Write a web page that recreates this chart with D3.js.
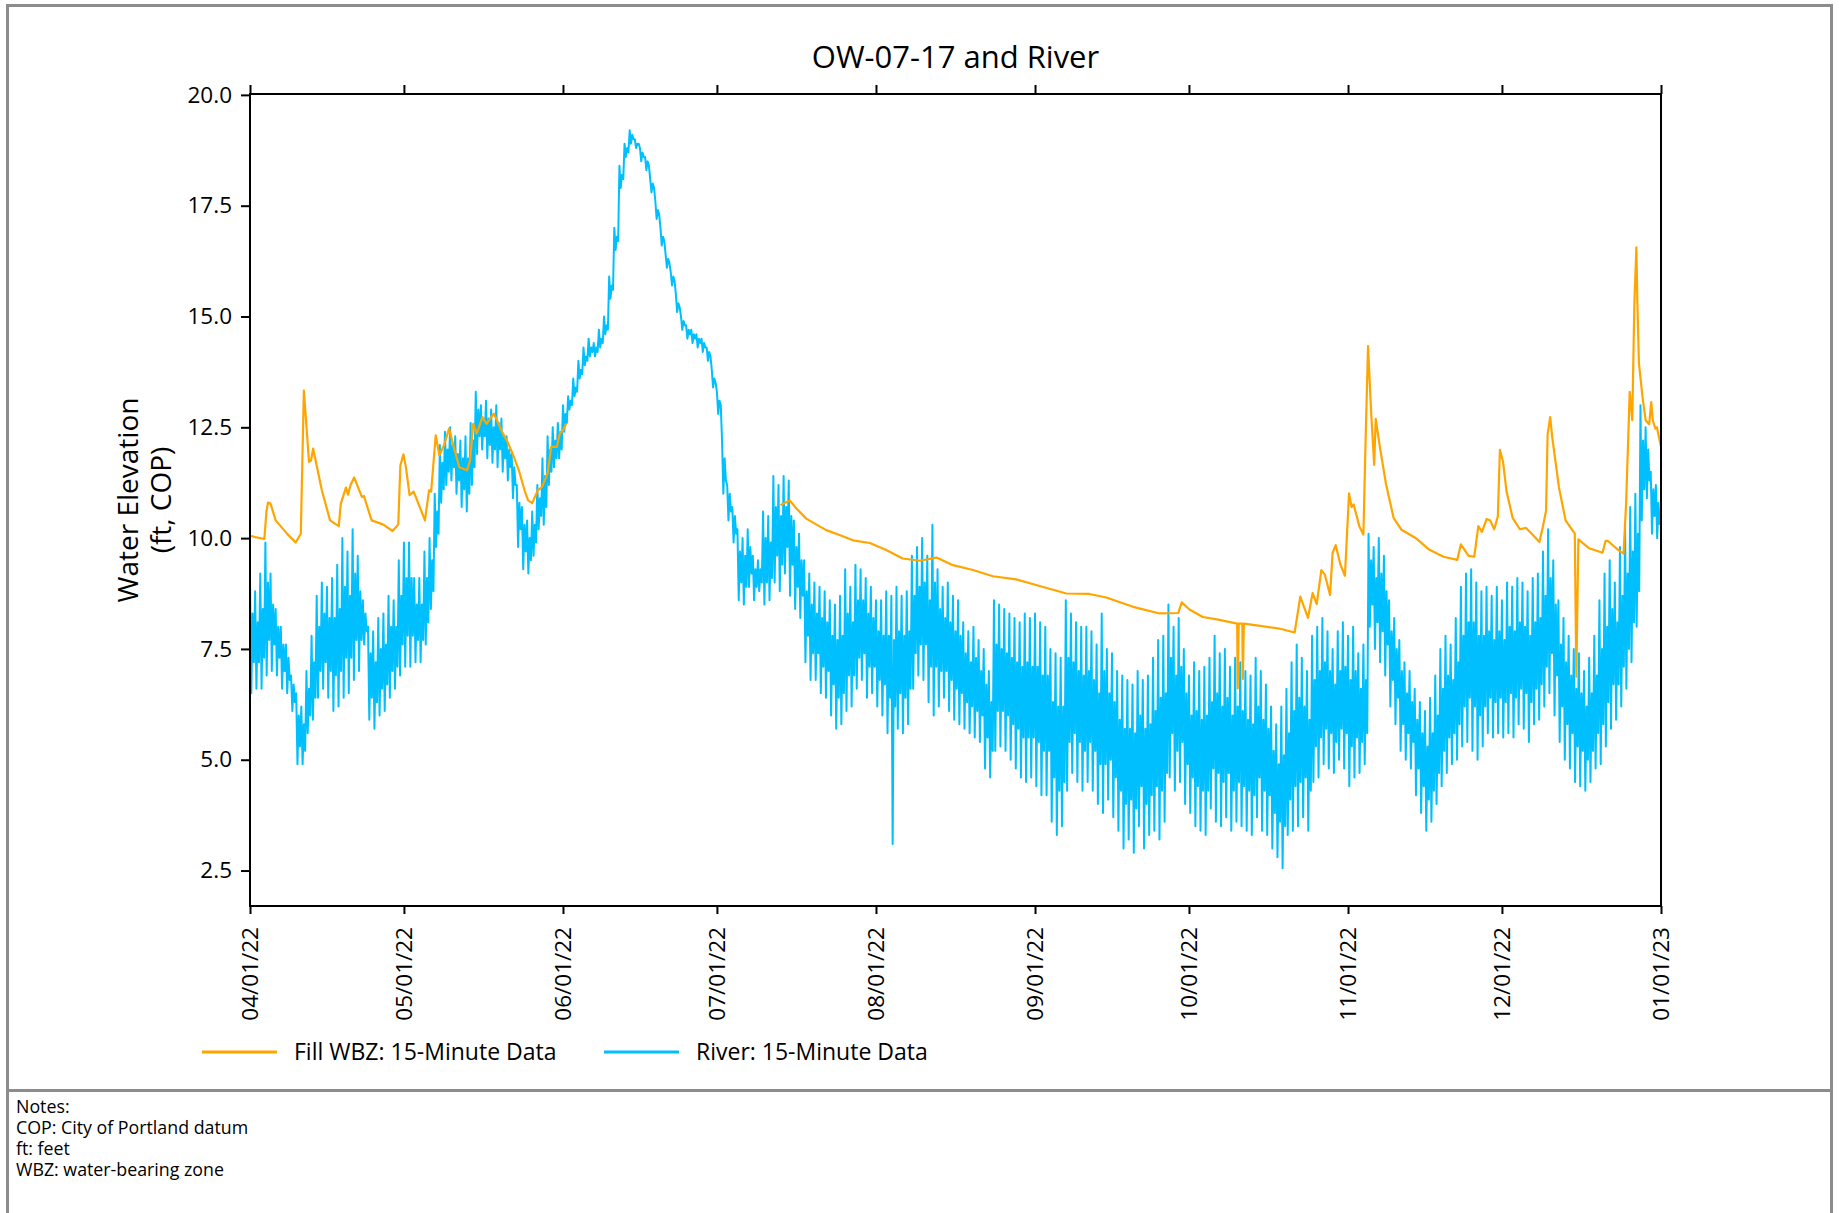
<!DOCTYPE html>
<html>
<head>
<meta charset="utf-8">
<script src="https://cdn.jsdelivr.net/npm/d3@7"></script>
<style>
  body { margin: 0; background: #fff; }
  svg { display: block; }
  text { font-family: "Open Sans", "Noto Sans", sans-serif; fill: #000; }
</style>
</head>
<body>
<svg id="chart" width="1843" height="1213"></svg>
<script>
// ---- data -------------------------------------------------------------
const chartTitle = "OW-07-17 and River";
const yLabelLines = ["Water Elevation", "(ft, COP)"];
const seriesNames = ["Fill WBZ: 15-Minute Data", "River: 15-Minute Data"];
const notes = ["Notes:", "COP: City of Portland datum", "ft: feet", "WBZ: water-bearing zone"];

const startDate = "2022-04-01";
const endDate = "2023-01-01";
const monthTicks = ["2022-04-01", "2022-05-01", "2022-06-01", "2022-07-01", "2022-08-01",
                    "2022-09-01", "2022-10-01", "2022-11-01", "2022-12-01", "2023-01-01"];
const yTicks = [2.5, 5.0, 7.5, 10.0, 12.5, 15.0, 17.5, 20.0];

// River stage (ft, COP), one entry per day from 04/01/22:
// higher high, lower low, lower high and higher low of the tidal day
const riverHigh = [
  9.1, 8.8, 9.2, 9.9, 9.2, 8.4, 8.0, 7.6, 6.9, 6.5, 6.2, 7.0, 7.8, 8.7, 9.0, 8.9, 9.1, 9.4, 10.0, 9.7,
  10.2, 9.6, 8.6, 8.0, 7.9, 8.2, 8.3, 8.7, 8.6, 9.5, 9.9, 9.9, 9.1, 9.1, 9.7, 10.0, 11.0, 12.1, 12.4, 12.5,
  12.3, 12.2, 12.3, 12.6, 13.3, 13.0, 13.1, 12.9, 13.0, 12.7, 12.3, 11.9, 11.2, 10.7, 10.4, 10.6, 11.2, 11.8, 12.3, 12.5,
  12.6, 13.0, 13.2, 13.6, 14.0, 14.3, 14.5, 14.4, 14.7, 15.0, 15.9, 17.0, 18.4, 18.9, 19.2, 19.0, 18.8, 18.6, 18.1, 17.6,
  17.0, 16.4, 16.0, 15.5, 15.0, 14.8, 14.7, 14.6, 14.5, 14.3, 13.8, 13.3, 12.2, 11.2, 10.7, 10.2, 10.0, 10.2, 9.6, 9.5,
  10.6, 10.5, 11.4, 11.2, 11.4, 11.3, 10.4, 10.1, 9.5, 9.2, 9.0, 8.9, 8.8, 8.6, 8.5, 8.7, 9.3, 8.9, 9.4, 9.3,
  9.1, 8.9, 8.6, 8.6, 8.8, 8.7, 8.9, 8.7, 8.8, 9.6, 9.8, 10.0, 9.6, 10.3, 9.3, 8.9, 9.0, 8.7, 8.6, 8.1,
  7.9, 8.0, 7.7, 7.5, 7.0, 8.6, 8.5, 8.4, 8.3, 8.2, 8.1, 8.3, 8.2, 8.3, 8.1, 8.0, 7.5, 7.4, 7.3, 8.6,
  8.3, 8.1, 8.0, 8.0, 7.9, 7.6, 8.3, 7.5, 7.4, 7.0, 6.9, 6.8, 6.7, 7.0, 6.8, 6.9, 7.3, 7.7, 7.8, 8.5,
  8.0, 8.2, 7.5, 6.9, 7.2, 7.0, 7.1, 7.3, 7.8, 7.4, 7.5, 7.1, 7.3, 7.2, 7.0, 6.9, 7.3, 7.0, 6.7, 6.2,
  5.8, 6.2, 6.6, 7.2, 7.6, 7.3, 7.0, 7.8, 8.0, 8.2, 7.9, 7.5, 7.9, 8.1, 7.8, 8.0, 7.4, 7.6, 10.1, 9.8,
  10.0, 9.6, 8.6, 8.2, 7.7, 7.2, 7.0, 6.6, 6.3, 6.1, 6.4, 6.9, 7.5, 7.8, 7.6, 8.2, 8.9, 9.2, 9.3, 9.0,
  8.8, 8.9, 8.7, 8.9, 8.6, 9.0, 8.9, 9.1, 9.0, 8.8, 9.1, 9.2, 9.7, 10.2, 9.5, 8.6, 8.2, 7.8, 7.5, 7.4,
  7.0, 7.3, 7.8, 8.6, 9.2, 9.5, 9.0, 9.8, 10.3, 10.7, 11.0, 13.0, 12.5, 11.5, 11.2
];
const riverLow = [
  6.5, 6.6, 6.6, 6.9, 7.0, 6.9, 6.6, 6.5, 6.1, 4.9, 4.9, 5.6, 5.9, 6.4, 6.6, 6.4, 6.1, 6.2, 6.4, 6.5,
  6.8, 7.0, 7.6, 5.9, 5.7, 6.0, 6.1, 6.4, 6.6, 6.9, 7.1, 7.1, 7.2, 7.2, 7.6, 8.4, 9.8, 10.8, 11.2, 11.3,
  11.0, 10.7, 10.6, 11.2, 11.9, 12.0, 11.8, 11.7, 11.6, 11.5, 11.3, 10.9, 9.8, 9.3, 9.2, 9.6, 10.2, 10.3, 11.2, 11.6,
  11.8, 12.4, 12.9, 13.2, 13.6, 13.9, 14.1, 14.1, 14.3, 14.6, 15.4, 16.5, 17.9, 18.6, 18.9, 18.8, 18.5, 18.3, 17.8, 17.2,
  16.6, 16.1, 15.7, 15.1, 14.7, 14.5, 14.4, 14.3, 14.2, 14.0, 13.4, 12.8, 11.0, 10.4, 9.9, 8.6, 8.5, 8.9, 8.6, 8.8,
  8.5, 8.6, 9.0, 8.8, 9.2, 8.7, 8.4, 8.2, 7.2, 6.8, 6.8, 6.5, 6.4, 6.0, 5.7, 5.8, 6.1, 6.2, 6.6, 6.8,
  6.4, 6.5, 6.2, 6.0, 5.6, 3.1, 5.7, 5.6, 5.8, 6.6, 6.9, 6.8, 6.3, 6.0, 6.2, 6.4, 6.1, 5.9, 5.8, 5.7,
  5.6, 5.5, 5.4, 4.8, 4.6, 5.2, 5.3, 5.2, 5.0, 4.8, 4.6, 4.5, 4.6, 4.4, 4.2, 4.2, 3.6, 3.3, 3.5, 4.3,
  4.7, 4.5, 4.3, 4.5, 4.3, 4.0, 3.8, 4.1, 3.7, 3.4, 3.0, 3.2, 2.9, 3.5, 3.0, 3.3, 3.4, 3.2, 3.6, 4.6,
  4.3, 4.5, 4.0, 3.8, 3.5, 3.4, 3.3, 3.9, 3.6, 3.5, 3.7, 3.4, 3.6, 3.5, 3.4, 3.3, 3.7, 3.4, 3.3, 3.0,
  2.8, 2.55, 3.3, 3.4, 3.5, 3.7, 3.4, 4.5, 4.6, 4.9, 4.8, 4.7, 5.0, 4.8, 4.4, 4.6, 4.7, 4.9, 8.0, 7.5,
  7.2, 6.9, 6.2, 5.8, 5.2, 5.0, 4.8, 4.2, 3.8, 3.4, 3.6, 4.0, 4.4, 4.7, 4.9, 5.0, 5.3, 5.4, 5.2, 5.0,
  5.3, 5.6, 5.5, 5.6, 5.5, 5.6, 5.5, 5.8, 5.7, 5.4, 5.8, 5.9, 6.2, 6.5, 6.0, 5.4, 5.0, 4.8, 4.5, 4.4,
  4.3, 4.5, 4.8, 4.9, 5.3, 5.7, 5.9, 6.2, 6.6, 7.2, 8.0, 10.4, 10.9, 10.1, 10.0
];
const riverLowerHigh = [
  8.3, 8.1, 8.4, 9.0, 8.5, 8.0, 7.6, 7.3, 6.7, 6.0, 5.8, 6.6, 7.2, 8.0, 8.3, 8.2, 8.2, 8.4, 8.9, 8.7,
  9.2, 8.8, 8.3, 7.4, 7.2, 7.5, 7.6, 8.0, 8.0, 8.7, 9.1, 9.1, 8.5, 8.5, 9.1, 9.5, 10.6, 11.7, 12.0, 12.1,
  11.9, 11.8, 11.8, 12.2, 12.9, 12.7, 12.7, 12.5, 12.6, 12.3, 12.0, 11.6, 10.8, 10.3, 10.0, 10.3, 10.9, 11.4, 12.0, 12.2,
  12.4, 12.8, 13.1, 13.4, 13.8, 14.1, 14.3, 14.3, 14.5, 14.8, 15.7, 16.8, 18.2, 18.8, 19.1, 18.9, 18.7, 18.5, 18.0, 17.4,
  16.8, 16.3, 15.9, 15.3, 14.9, 14.7, 14.6, 14.5, 14.4, 14.2, 13.6, 13.1, 11.8, 11.0, 10.5, 9.7, 9.6, 9.8, 9.3, 9.3,
  10.0, 9.9, 10.7, 10.5, 10.7, 10.5, 9.8, 9.5, 8.8, 8.5, 8.3, 8.2, 8.1, 7.8, 7.7, 7.8, 8.3, 8.1, 8.6, 8.6,
  8.3, 8.2, 7.9, 7.8, 7.8, 7.7, 7.9, 7.8, 7.9, 8.7, 8.9, 9.0, 8.6, 9.0, 8.4, 8.2, 8.1, 7.9, 7.8, 7.4,
  7.2, 7.3, 7.0, 6.7, 6.3, 7.6, 7.5, 7.4, 7.3, 7.2, 7.1, 7.2, 7.1, 7.1, 6.9, 6.9, 6.3, 6.2, 6.2, 7.3,
  7.2, 7.0, 6.9, 7.0, 6.8, 6.5, 7.0, 6.5, 6.3, 5.9, 5.7, 5.7, 5.6, 6.0, 5.7, 5.8, 6.1, 6.4, 6.5, 7.3,
  6.9, 7.1, 6.5, 6.0, 6.1, 5.9, 6.0, 6.3, 6.5, 6.2, 6.4, 6.0, 6.2, 6.1, 5.9, 5.8, 6.2, 5.9, 5.7, 5.2,
  4.9, 5.1, 5.6, 6.1, 6.4, 6.2, 5.9, 6.8, 7.0, 7.2, 7.0, 6.7, 7.0, 7.1, 6.8, 7.0, 6.6, 6.8, 9.5, 9.1,
  9.2, 8.8, 7.9, 7.5, 7.0, 6.5, 6.3, 5.9, 5.6, 5.3, 5.6, 6.0, 6.6, 6.9, 6.8, 7.2, 7.8, 8.1, 8.1, 7.8,
  7.8, 7.9, 7.7, 7.9, 7.7, 8.0, 7.9, 8.1, 8.0, 7.8, 8.1, 8.2, 8.7, 9.1, 8.5, 7.6, 7.2, 6.9, 6.6, 6.5,
  6.2, 6.5, 6.9, 7.5, 8.0, 8.4, 8.1, 8.7, 9.2, 9.7, 10.1, 12.2, 12.0, 11.1, 10.8
];
const riverHigherLow = [
  7.2, 7.2, 7.3, 7.7, 7.6, 7.3, 7.0, 6.8, 6.3, 5.3, 5.2, 6.0, 6.4, 7.0, 7.2, 7.0, 6.9, 7.0, 7.3, 7.3,
  7.7, 7.7, 7.9, 6.4, 6.3, 6.6, 6.7, 7.0, 7.1, 7.6, 7.8, 7.8, 7.7, 7.7, 8.1, 8.8, 10.1, 11.1, 11.5, 11.6,
  11.3, 11.1, 11.0, 11.6, 12.3, 12.3, 12.1, 12.0, 12.0, 11.8, 11.6, 11.2, 10.2, 9.7, 9.5, 9.9, 10.5, 10.7, 11.5, 11.8,
  12.0, 12.6, 13.0, 13.3, 13.7, 14.0, 14.2, 14.2, 14.4, 14.7, 15.6, 16.7, 18.1, 18.7, 19.0, 18.9, 18.6, 18.4, 17.9, 17.3,
  16.7, 16.2, 15.8, 15.2, 14.8, 14.6, 14.5, 14.4, 14.3, 14.1, 13.5, 13.0, 11.3, 10.6, 10.1, 9.0, 8.9, 9.2, 8.9, 9.0,
  9.0, 9.1, 9.6, 9.4, 9.8, 9.4, 8.9, 8.7, 7.8, 7.4, 7.4, 7.1, 7.0, 6.7, 6.4, 6.5, 6.9, 6.9, 7.3, 7.4,
  7.1, 7.1, 6.8, 6.7, 6.4, 6.2, 6.5, 6.4, 6.6, 7.4, 7.6, 7.6, 7.1, 7.1, 7.0, 7.0, 6.8, 6.6, 6.5, 6.3,
  6.2, 6.1, 6.0, 5.5, 5.2, 6.1, 6.1, 6.0, 5.8, 5.7, 5.5, 5.5, 5.5, 5.4, 5.2, 5.2, 4.6, 4.3, 4.5, 5.4,
  5.6, 5.4, 5.2, 5.4, 5.2, 4.9, 4.9, 5.0, 4.6, 4.3, 4.0, 4.1, 3.9, 4.4, 4.0, 4.2, 4.4, 4.3, 4.7, 5.6,
  5.2, 5.4, 4.9, 4.6, 4.4, 4.3, 4.3, 4.8, 4.7, 4.5, 4.7, 4.3, 4.5, 4.4, 4.3, 4.2, 4.6, 4.3, 4.2, 3.8,
  3.6, 3.5, 4.1, 4.4, 4.5, 4.6, 4.3, 5.3, 5.5, 5.7, 5.6, 5.4, 5.7, 5.6, 5.3, 5.5, 5.4, 5.6, 8.5, 8.1,
  7.9, 7.6, 6.8, 6.4, 5.8, 5.6, 5.4, 4.8, 4.4, 4.1, 4.3, 4.7, 5.2, 5.5, 5.6, 5.8, 6.2, 6.4, 6.2, 6.0,
  6.2, 6.4, 6.3, 6.4, 6.3, 6.5, 6.4, 6.6, 6.5, 6.3, 6.6, 6.7, 7.1, 7.4, 6.9, 6.2, 5.8, 5.6, 5.3, 5.2,
  5.0, 5.2, 5.6, 5.8, 6.3, 6.7, 6.7, 7.1, 7.5, 8.1, 8.8, 11.1, 11.3, 10.5, 10.3
];

// Fill WBZ groundwater level: [days after 04/01/22, ft COP]; null marks the data gap
const wbzDays = [
  0, 2.8, 3.2, 3.5, 4.0, 5.0, 7.3, 8.9, 9.9, 10.5, 11.5, 11.9, 12.3, 14.0, 15.6, 17.3, 17.7, 18.7, 19.1, 19.6,
  20.3, 21.8, 22.2, 23.7, 25.9, 27.8, 28.9, 29.3, 29.9, 30.4, 31.1, 31.9, 34.1, 34.9, 35.3, 36.2, 36.9, 37.8, 38.8, 39.7,
  40.8, 42.3, 42.9, 43.5, 44.2, 45.3, 46.1, 47.5, 48.3, 49.0, 50.2, 51.3, 52.4, 53.5, 54.2, 55.0, 56.1, 56.9, 58.0, 58.7,
  59.8, 60.4, 61.0, 61.6, 62.0,
  103.4, 104.0, 105.2, 106.5, 108.4, 112.3, 114.9, 117.5, 120.8, 124.0, 127.2, 130.5, 133.8, 137.0, 140.9, 144.8, 149.3, 153.9, 159.1, 163.6,
  166.9, 172.1, 177.3, 180.9, 181.6, 183.1, 185.7, 188.7, 192.4, 192.5, 192.7, 193.4, 193.5, 193.7, 196.9, 200.6, 203.6, 204.7, 206.2, 207.1,
  207.9, 208.8, 209.5, 210.5, 211.0, 211.6, 212.5, 213.4, 213.9, 214.2, 214.7, 215.1, 216.2, 217.0, 217.4, 217.9, 218.5, 219.1, 219.4, 220.3,
  221.4, 222.9, 224.4, 227.1, 229.7, 232.6, 235.3, 236.0, 237.5, 238.6, 239.4, 240.1, 241.0, 241.7, 242.5, 243.2, 243.6, 244.2, 244.9, 246.1,
  247.5, 248.7, 249.8, 251.3, 252.0, 252.6, 252.9, 253.4, 253.8, 255.1, 256.4, 258.2, 258.5, 258.9, 261.0, 263.6, 264.2, 264.6, 266.7, 267.7,
  268.2, 268.9, 269.4, 269.8, 270.2, 270.4, 270.7, 271.4, 272.0, 272.7, 273.1, 273.4, 273.9, 274.2, 275.0
];
const wbzLevel = [
  10.05, 9.98, 10.6, 10.8, 10.78, 10.4, 10.09, 9.9, 10.1, 13.33, 11.72, 11.75, 12.02, 11.08, 10.4, 10.27, 10.78, 11.14, 10.98, 11.2,
  11.37, 10.93, 10.95, 10.4, 10.31, 10.16, 10.31, 11.64, 11.89, 11.59, 10.97, 11.05, 10.4, 11.08, 11.05, 12.32, 11.87, 12.09, 12.47, 12.06,
  11.6, 11.53, 11.76, 12.58, 12.36, 12.73, 12.58, 12.81, 12.62, 12.43, 12.17, 11.87, 11.53, 11.08, 10.85, 10.79, 11.08, 11.15, 11.46, 12.06,
  12.06, 12.36, 12.43, 12.58, null,
  10.74, 10.78, 10.85, 10.67, 10.44, 10.18, 10.07, 9.95, 9.89, 9.73, 9.54, 9.49, 9.56, 9.39, 9.28, 9.14, 9.07, 8.92, 8.75, 8.74,
  8.66, 8.45, 8.30, 8.31, 8.55, 8.39, 8.22, 8.16, 8.07, 6.61, 8.07, 8.07, 6.82, 8.07, 8.02, 7.96, 7.87, 8.68, 8.20, 8.76,
  8.51, 9.28, 9.17, 8.72, 9.67, 9.84, 9.41, 9.15, 10.31, 11.01, 10.70, 10.76, 10.27, 10.08, 12.09, 14.33, 12.86, 11.65, 12.69, 11.99,
  11.22, 10.45, 10.19, 10.01, 9.75, 9.58, 9.51, 9.86, 9.60, 9.58, 10.27, 10.14, 10.43, 10.40, 10.20, 10.49, 11.99, 11.73, 11.05, 10.45,
  10.20, 10.23, 10.10, 9.91, 10.27, 10.62, 12.34, 12.73, 12.28, 11.15, 10.40, 10.10, 6.87, 9.97, 9.77, 9.67, 9.94, 9.94, 9.73, 9.65,
  10.78, 13.30, 12.66, 15.25, 16.56, 15.29, 13.94, 13.18, 12.66, 12.57, 13.07, 12.66, 12.47, 12.50, 12.06
];

// ---- layout -----------------------------------------------------------
const plot = { left: 250, right: 1661, top: 94, bottom: 906 };
const colors = { wbz: "#FFA500", river: "#00BFFF", frame: "#8c8c8c" };

const svg = d3.select("#chart");
const parse = d3.utcParse("%Y-%m-%d");
const t0 = parse(startDate);
const dayToDate = d => new Date(t0.getTime() + d * 864e5);

const x = d3.scaleUtc().domain([t0, parse(endDate)]).range([plot.left, plot.right]);
const y = d3.scaleLinear().domain([1.7, 20.02]).range([plot.bottom, plot.top]);

// outer page frame and the divider above the notes block
svg.append("rect")
  .attr("x", 7.5).attr("y", 5.5).attr("width", 1824).attr("height", 1230)
  .attr("fill", "none").attr("stroke", colors.frame).attr("stroke-width", 3);
svg.append("line")
  .attr("x1", 7).attr("x2", 1832).attr("y1", 1090.5).attr("y2", 1090.5)
  .attr("stroke", colors.frame).attr("stroke-width", 3);

svg.append("defs").append("clipPath").attr("id", "plot-clip")
  .append("rect")
  .attr("x", plot.left).attr("y", plot.top)
  .attr("width", plot.right - plot.left).attr("height", plot.bottom - plot.top);

// river: the four tidal turning points of each day, in time order
const riverPts = [];
riverHigh.forEach((hh, d) => {
  riverPts.push({ t: dayToDate(d), v: hh });
  riverPts.push({ t: dayToDate(d + 0.25), v: riverLow[d] });
  riverPts.push({ t: dayToDate(d + 0.5), v: riverLowerHigh[d] });
  riverPts.push({ t: dayToDate(d + 0.75), v: riverHigherLow[d] });
});
const wbzPts = wbzDays.map((d, i) => ({ t: dayToDate(d), v: wbzLevel[i] }));

const line = d3.line()
  .defined(p => p.v !== null)
  .x(p => x(p.t))
  .y(p => y(p.v));

const lines = svg.append("g").attr("clip-path", "url(#plot-clip)");
lines.append("path").datum(riverPts)
  .attr("d", line).attr("fill", "none")
  .attr("stroke", colors.river).attr("stroke-width", 2).attr("stroke-linejoin", "round");
lines.append("path").datum(wbzPts)
  .attr("d", line).attr("fill", "none")
  .attr("stroke", colors.wbz).attr("stroke-width", 2.2).attr("stroke-linejoin", "round");

// axes
const monthDates = monthTicks.map(parse);
const tickFont = "22.5px";

const xAxis = svg.append("g")
  .attr("transform", `translate(0,${plot.bottom})`)
  .call(d3.axisBottom(x).tickValues(monthDates).tickFormat(d3.utcFormat("%m/%d/%y")).tickSize(8).tickSizeOuter(0));
xAxis.select(".domain").remove();
xAxis.selectAll(".tick line").attr("stroke", "#000").attr("stroke-width", 2);
xAxis.selectAll(".tick text")
  .attr("font-size", tickFont)
  .attr("transform", "rotate(-90)")
  .attr("text-anchor", "end")
  .attr("x", -21).attr("y", 0).attr("dy", "0.35em");

const xAxisTop = svg.append("g")
  .attr("transform", `translate(0,${plot.top})`)
  .call(d3.axisTop(x).tickValues(monthDates).tickFormat("").tickSize(9).tickSizeOuter(0));
xAxisTop.select(".domain").remove();
xAxisTop.selectAll(".tick line").attr("stroke", "#000").attr("stroke-width", 2);

const yAxis = svg.append("g")
  .attr("transform", `translate(${plot.left},0)`)
  .call(d3.axisLeft(y).tickValues(yTicks).tickFormat(d3.format(".1f")).tickSize(9).tickPadding(9).tickSizeOuter(0));
yAxis.select(".domain").remove();
yAxis.selectAll(".tick line").attr("stroke", "#000").attr("stroke-width", 2);
yAxis.selectAll(".tick text").attr("font-size", tickFont);

// plot frame
svg.append("rect")
  .attr("x", plot.left).attr("y", plot.top)
  .attr("width", plot.right - plot.left).attr("height", plot.bottom - plot.top)
  .attr("fill", "none").attr("stroke", "#000").attr("stroke-width", 2);

// title
svg.append("text")
  .attr("x", (plot.left + plot.right) / 2).attr("y", 68)
  .attr("text-anchor", "middle").attr("font-size", "31px")
  .text(chartTitle);

// y-axis title (two lines)
const yMid = (plot.top + plot.bottom) / 2;
const yLabel = svg.append("text")
  .attr("transform", `translate(138,${yMid}) rotate(-90)`)
  .attr("text-anchor", "middle").attr("font-size", "28px");
yLabelLines.forEach((s, i) => {
  yLabel.append("tspan").attr("x", 0).attr("y", i * 33).text(s);
});

// legend
const legend = svg.append("g");
const legendItems = [
  { name: seriesNames[0], color: colors.wbz, x: 202 },
  { name: seriesNames[1], color: colors.river, x: 604 }
];
legendItems.forEach(it => {
  legend.append("line")
    .attr("x1", it.x).attr("x2", it.x + 75).attr("y1", 1052).attr("y2", 1052)
    .attr("stroke", it.color).attr("stroke-width", 3);
  legend.append("text")
    .attr("x", it.x + 92).attr("y", 1052).attr("dy", "0.35em")
    .attr("font-size", "23px").text(it.name);
});

// notes block
const noteText = svg.append("g");
notes.forEach((s, i) => {
  noteText.append("text")
    .attr("x", 16).attr("y", 1113 + i * 20.9)
    .attr("font-size", "17.8px").text(s);
});
</script>
</body>
</html>
